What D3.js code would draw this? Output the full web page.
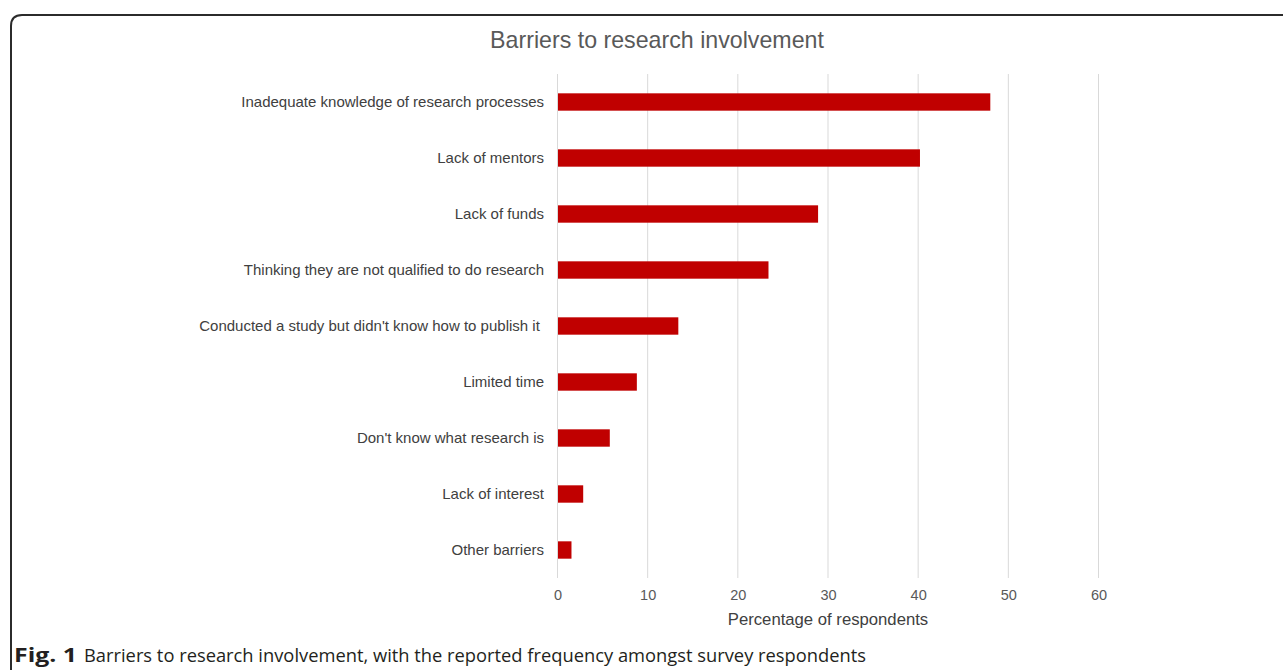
<!DOCTYPE html>
<html><head><meta charset="utf-8">
<script src="https://cdn.jsdelivr.net/npm/d3@7"></script>
<style>html,body{margin:0;padding:0;background:#fff;overflow:hidden}</style>
</head><body>
<svg id="c" width="1283" height="670"></svg>
<script>
const categories = [
  "Inadequate knowledge of research processes",
  "Lack of mentors",
  "Lack of funds",
  "Thinking they are not qualified to do research",
  "Conducted a study but didn't know how to publish it\u00a0",
  "Limited time",
  "Don't know what research is",
  "Lack of interest",
  "Other barriers"
];
const values = [48.0, 40.2, 28.9, 23.4, 13.4, 8.8, 5.8, 2.85, 1.55];
const xTicks = [0, 10, 20, 30, 40, 50, 60];
const title = "Barriers to research involvement";
const xTitle = "Percentage of respondents";
const captionBold = "Fig. 1";
const captionText = "Barriers to research involvement, with the reported frequency amongst survey respondents";

const svg = d3.select("#c");
const font = "'Liberation Sans', Arial, sans-serif";

// frame
svg.append("path")
  .attr("d", "M11,1300 L11,26 Q11,15 22,15 L1300,15")
  .attr("fill", "none").attr("stroke", "#2b2b2b").attr("stroke-width", 2);

const x = d3.scaleLinear().domain([0, 60]).range([557.5, 1098.5]);
const y = d3.scaleBand().domain(categories).range([74, 578]).paddingInner(0.69).paddingOuter(0.345);

// gridlines
svg.append("g").selectAll("line").data(xTicks).join("line")
  .attr("x1", d => x(d)).attr("x2", d => x(d))
  .attr("y1", 74).attr("y2", 578)
  .attr("stroke", "#d9d9d9").attr("stroke-width", 1);

// bars
svg.append("g").selectAll("rect").data(values).join("rect")
  .attr("x", x(0) + 0.5)
  .attr("y", (d, i) => y(categories[i]))
  .attr("width", d => x(d) - x(0) - 0.5)
  .attr("height", y.bandwidth())
  .attr("fill", "#c00000");

// x axis tick labels
const xAxis = d3.axisBottom(x).tickValues(xTicks).tickSize(0).tickPadding(0);
const gx = svg.append("g").attr("transform", "translate(0,590)").call(xAxis);
gx.select(".domain").remove();
gx.selectAll("text").attr("font-family", font).attr("font-size", 14.5)
  .attr("fill", "#595959").attr("dy", "0.71em");

// y axis labels
const yAxis = d3.axisLeft(y).tickSize(0).tickPadding(0);
const gy = svg.append("g").attr("transform", "translate(544,0)").call(yAxis);
gy.select(".domain").remove();
gy.selectAll("text").attr("font-family", font).attr("font-size", 15)
  .attr("fill", "#404040");

// title
svg.append("text").attr("x", 657).attr("y", 48).attr("text-anchor", "middle")
  .attr("font-family", font).attr("font-size", 23.2).attr("fill", "#595959").text(title);

// x title
svg.append("text").attr("x", 828).attr("y", 625).attr("text-anchor", "middle")
  .attr("font-family", font).attr("font-size", 16.7).attr("fill", "#404040").text(xTitle);

// caption
svg.append("text").attr("x", 14).attr("y", 662)
  .attr("font-family", "'Open Sans', sans-serif").attr("font-weight", "bold")
  .attr("font-size", 19).attr("fill", "#231f20")
  .attr("textLength", 63).attr("lengthAdjust", "spacingAndGlyphs").text(captionBold);
svg.append("text").attr("x", 84).attr("y", 662)
  .attr("font-family", "'Open Sans', sans-serif")
  .attr("font-size", 19).attr("fill", "#231f20")
  .attr("textLength", 782).attr("lengthAdjust", "spacingAndGlyphs").text(captionText);
</script>
</body></html>
